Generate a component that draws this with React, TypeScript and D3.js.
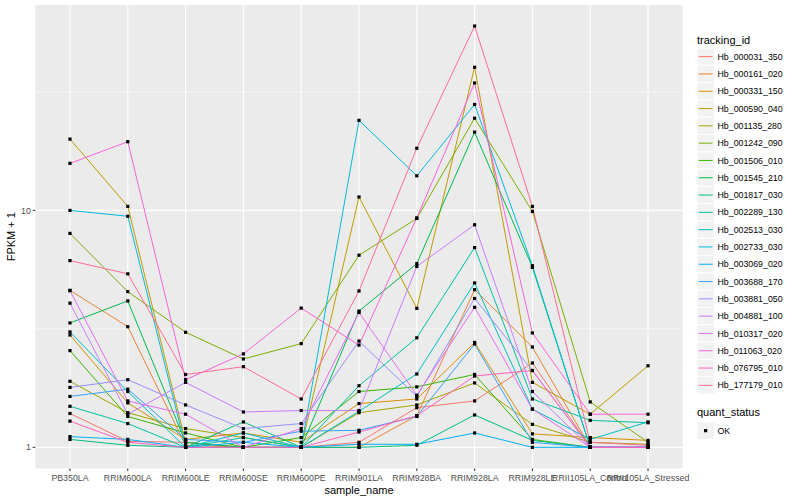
import React, { useMemo } from 'react';
import * as d3 from 'd3';

// sample_name categories (x axis)
const samples = [
    'PB350LA', 'RRIM600LA', 'RRIM600LE', 'RRIM600SE', 'RRIM600PE', 'RRIM901LA',
    'RRIM928BA', 'RRIM928LA', 'RRIM928LE', 'RRII105LA_Control', 'RRII105LA_Stressed',
];

// tracking ids, in legend order
const trackingIds = [
    'Hb_000031_350', 'Hb_000161_020', 'Hb_000331_150', 'Hb_000590_040', 'Hb_001135_280',
    'Hb_001242_090', 'Hb_001506_010', 'Hb_001545_210', 'Hb_001817_030', 'Hb_002289_130',
    'Hb_002513_030', 'Hb_002733_030', 'Hb_003069_020', 'Hb_003688_170', 'Hb_003881_050',
    'Hb_004881_100', 'Hb_010317_020', 'Hb_011063_020', 'Hb_076795_010', 'Hb_177179_010',
];

// ggplot default hue palette for 20 groups
const hueColors = [
    '#F8766D', '#EA8331', '#D89000', '#C09B00', '#A3A500', '#7CAE00', '#39B600', '#00BB4E',
    '#00BF7D', '#00C1A3', '#00BFC4', '#00BAE0', '#00B0F6', '#35A2FF', '#9590FF', '#C77CFF',
    '#E76BF3', '#FA62DB', '#FF62BC', '#FF6C91',
];

// FPKM + 1 per tracking id, one value per sample
const fpkm: number[][] = [
    [1.39, 1.06, 1.05, 1.0, 1.0, 1.05, 1.47, 1.57, 2.27, 1.0, 1.0],
    [4.6, 3.23, 1.02, 1.0, 1.0, 1.0, 1.36, 4.63, 2.65, 1.0, 1.0],
    [2.98, 1.54, 1.08, 1.15, 1.05, 1.53, 1.6, 2.77, 1.14, 1.1, 1.07],
    [20.0, 10.4, 1.05, 1.0, 1.0, 11.4, 3.86, 40.2, 1.88, 1.38, 2.21],
    [1.9, 1.4, 1.2, 1.1, 1.0, 1.4, 1.51, 1.87, 1.25, 1.05, 1.03],
    [8.0, 4.54, 3.06, 2.36, 2.74, 6.47, 9.25, 24.5, 9.9, 1.555, 1.05],
    [2.56, 1.35, 1.15, 1.0, 1.1, 1.72, 1.8, 2.03, 1.08, 1.0, 1.0],
    [3.35, 4.15, 1.05, 1.0, 1.0, 3.76, 5.96, 21.4, 5.75, 1.0, 1.0],
    [1.08, 1.02, 1.0, 1.28, 1.0, 1.0, 1.02, 1.37, 1.07, 1.0, 1.0],
    [1.49, 1.26, 1.0, 1.1, 1.0, 1.82, 2.9, 6.97, 1.6, 1.3, 1.27],
    [3.07, 1.72, 1.0, 1.15, 1.0, 1.42, 2.04, 4.94, 1.45, 1.08, 1.28],
    [10.0, 9.45, 1.0, 1.0, 1.0, 24.0, 14.0, 28.0, 5.84, 1.0, 1.0],
    [1.11, 1.08, 1.0, 1.05, 1.0, 1.03, 1.03, 1.15, 1.0, 1.0, 1.0],
    [1.64, 1.76, 1.08, 1.05, 1.17, 1.18, 1.35, 2.73, 1.05, 1.0, 1.0],
    [1.79, 1.93, 1.51, 1.2, 1.26, 2.81, 1.64, 4.25, 2.11, 1.0, 1.0],
    [4.06, 1.38, 1.88, 1.41, 1.43, 1.43, 5.8, 8.7, 1.72, 1.0, 1.0],
    [4.58, 1.57, 1.38, 1.0, 1.2, 3.71, 1.66, 3.9, 1.45, 1.0, 1.0],
    [15.8, 19.5, 1.93, 2.48, 3.87, 2.7, 9.3, 34.5, 3.04, 1.38, 1.38],
    [1.29, 1.05, 1.0, 1.0, 1.0, 1.16, 1.36, 2.0, 2.11, 1.0, 1.0],
    [6.14, 5.4, 2.03, 2.19, 1.6, 4.57, 18.3, 60.0, 10.4, 1.05, 1.02],
];

const yMajor = [1, 10];
const yMinor = [Math.sqrt(10), Math.sqrt(1000)];

const W = 800;
const H = 500;
const FONT = '"Liberation Sans", Arial, Helvetica, sans-serif';

export default function App() {
    const panel = { left: 35.3, right: 682.7, top: 5, bottom: 468.4 };

    const x = useMemo(
        () => d3.scalePoint<string>().domain(samples).range([panel.left, panel.right]).padding(0.6),
        []
    );

    const y = useMemo(() => {
        // mimic ggplot's 5% expansion in log space
        const all = fpkm.flat();
        const lo = Math.log10(d3.min(all)!);
        const hi = Math.log10(d3.max(all)!);
        const pad = (hi - lo) * 0.05;
        return d3.scaleLog().domain([10 ** (lo - pad), 10 ** (hi + pad)]).range([panel.bottom, panel.top]);
    }, []);

    const line = d3
        .line<number>()
        .x((_, i) => x(samples[i])!)
        .y((v) => y(v));

    const legendX = 697;
    const keyH = 17.3;
    const firstKey = 48; // top of first key
    const qsTop = firstKey + keyH * trackingIds.length + 11;

    return (
        <div style={{ position: 'absolute', left: 0, top: 0 }}>
            <svg width={W} height={H} style={{ display: 'block', fontFamily: FONT }}>
                <rect width={W} height={H} fill="white" />

                {/* panel */}
                <rect
                    x={panel.left}
                    y={panel.top}
                    width={panel.right - panel.left}
                    height={panel.bottom - panel.top}
                    fill="#EBEBEB"
                />
                {yMinor.map((v) => (
                    <line key={'mi' + v} x1={panel.left} x2={panel.right} y1={y(v)} y2={y(v)} stroke="white" strokeWidth={0.55} />
                ))}
                {yMajor.map((v) => (
                    <line key={'ma' + v} x1={panel.left} x2={panel.right} y1={y(v)} y2={y(v)} stroke="white" strokeWidth={1.1} />
                ))}
                {samples.map((s) => (
                    <line key={'gx' + s} x1={x(s)} x2={x(s)} y1={panel.top} y2={panel.bottom} stroke="white" strokeWidth={1.1} />
                ))}

                {/* lines */}
                {fpkm.map((vals, i) => (
                    <path key={trackingIds[i]} d={line(vals) ?? ''} fill="none" stroke={hueColors[i]} strokeWidth={1} />
                ))}

                {/* points */}
                {fpkm.map((vals, i) =>
                    vals.map((v, j) => (
                        <rect
                            key={`p${i}-${j}`}
                            x={x(samples[j])! - 1.6}
                            y={y(v) - 1.6}
                            width={3.2}
                            height={3.2}
                            fill="black"
                        />
                    ))
                )}

                {/* y axis */}
                {yMajor.map((v) => (
                    <g key={'yt' + v}>
                        <line x1={panel.left - 2.7} x2={panel.left} y1={y(v)} y2={y(v)} stroke="#333333" strokeWidth={1} />
                        <text x={panel.left - 4.5} y={y(v)} dy="0.35em" textAnchor="end" fontSize={8.8} fill="#4D4D4D">
                            {v}
                        </text>
                    </g>
                ))}
                <text
                    transform={`translate(15,${(panel.top + panel.bottom) / 2}) rotate(-90)`}
                    textAnchor="middle"
                    fontSize={11}
                    fill="black"
                >
                    FPKM + 1
                </text>

                {/* x axis */}
                {samples.map((s) => (
                    <g key={'xt' + s}>
                        <line x1={x(s)} x2={x(s)} y1={panel.bottom} y2={panel.bottom + 2.7} stroke="#333333" strokeWidth={1} />
                        <text x={x(s)} y={panel.bottom + 13} textAnchor="middle" fontSize={8.8} fill="#4D4D4D">
                            {s}
                        </text>
                    </g>
                ))}
                <text x={(panel.left + panel.right) / 2} y={494} textAnchor="middle" fontSize={11} fill="black">
                    sample_name
                </text>

                {/* legend: tracking_id */}
                <text x={legendX} y={firstKey - 4} fontSize={11} fill="black">
                    tracking_id
                </text>
                {trackingIds.map((id, i) => {
                    const top = firstKey + i * keyH;
                    return (
                        <g key={'lg' + id}>
                            <rect x={legendX} y={top} width={17.3} height={keyH} fill="#F2F2F2" stroke="white" strokeWidth={1} />
                            <line
                                x1={legendX + 1.7}
                                x2={legendX + 15.6}
                                y1={top + keyH / 2}
                                y2={top + keyH / 2}
                                stroke={hueColors[i]}
                                strokeWidth={1}
                            />
                            <text x={legendX + 20.5} y={top + keyH / 2} dy="0.35em" fontSize={8.8} fill="black">
                                {id}
                            </text>
                        </g>
                    );
                })}

                {/* legend: quant_status */}
                <text x={legendX} y={qsTop + 11} fontSize={11} fill="black">
                    quant_status
                </text>
                <rect x={legendX} y={qsTop + 17} width={17.3} height={keyH} fill="#F2F2F2" stroke="white" strokeWidth={1} />
                <rect x={legendX + 8.65 - 1.6} y={qsTop + 17 + keyH / 2 - 1.6} width={3.2} height={3.2} fill="black" />
                <text x={legendX + 20.5} y={qsTop + 17 + keyH / 2} dy="0.35em" fontSize={8.8} fill="black">
                    OK
                </text>
            </svg>
        </div>
    );
}
